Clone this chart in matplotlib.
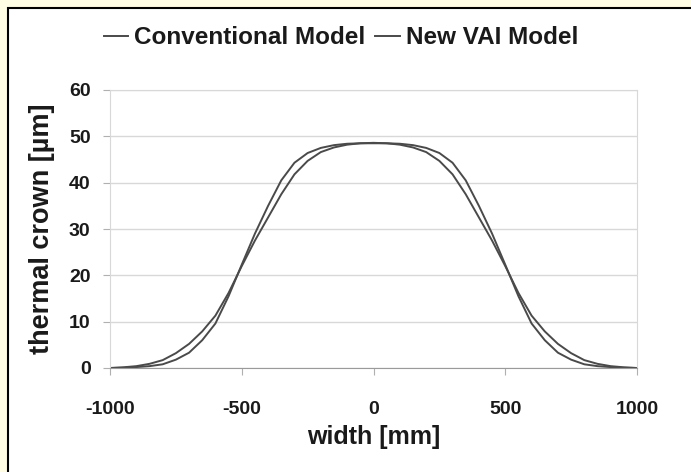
import matplotlib.pyplot as plt
from matplotlib.patches import Rectangle

plt.rcParams['font.family'] = ['Liberation Sans', 'DejaVu Sans']
plt.rcParams['axes.unicode_minus'] = False

# width positions [mm] and thermal crown [um]
width = [-1000, -950, -900, -850, -800, -750, -700, -650, -600, -550, -500,
         -450, -400, -350, -300, -250, -200, -150, -100, -50, 0,
         50, 100, 150, 200, 250, 300, 350, 400, 450, 500,
         550, 600, 650, 700, 750, 800, 850, 900, 950, 1000]

conventional = [0.0, 0.15, 0.4, 0.9, 1.7, 3.2, 5.2, 7.9, 11.3, 16.2, 22.0,
                27.5, 32.5, 37.5, 41.8, 44.7, 46.6, 47.6, 48.2, 48.5, 48.6,
                48.5, 48.2, 47.6, 46.6, 44.7, 41.8, 37.5, 32.5, 27.5, 22.0,
                16.2, 11.3, 7.9, 5.2, 3.2, 1.7, 0.9, 0.4, 0.15, 0.0]

new_vai = [0.0, 0.05, 0.2, 0.4, 0.8, 1.8, 3.3, 6.0, 9.6, 15.5, 22.3,
           29.0, 35.0, 40.5, 44.3, 46.4, 47.5, 48.1, 48.4, 48.5, 48.5,
           48.5, 48.4, 48.1, 47.5, 46.4, 44.3, 40.5, 35.0, 29.0, 22.3,
           15.5, 9.6, 6.0, 3.3, 1.8, 0.8, 0.4, 0.2, 0.05, 0.0]

x_ticks = [-1000, -500, 0, 500, 1000]
y_ticks = [0, 10, 20, 30, 40, 50, 60]

fig = plt.figure(figsize=(6.91, 4.72), dpi=100)
fig.patch.set_facecolor('#fffde3')

# white panel with black frame (runs off the right and bottom edges)
fig.patches.append(Rectangle((8 / 691, -0.05), 1.0, 1 - 8 / 472 + 0.05,
                             transform=fig.transFigure, facecolor='white',
                             edgecolor='black', linewidth=1.5, zorder=-10))

ax = fig.add_axes([110 / 691, 1 - 368 / 472, 527 / 691, 278 / 472])
ax.set_facecolor('white')

ax.plot(width, conventional, color='#4a4a4a', linewidth=1.4, label='Conventional Model')
ax.plot(width, new_vai, color='#4a4a4a', linewidth=1.4, label='New VAI Model')

ax.set_xlim(-1000, 1000)
ax.set_ylim(0, 60)
ax.set_xticks(x_ticks)
ax.set_yticks(y_ticks)
ax.yaxis.grid(True, color='#d8d8d8', linewidth=1.0)
ax.set_axisbelow(True)

for side in ['left', 'right', 'top']:
    ax.spines[side].set_color('#d8d8d8')
ax.spines['bottom'].set_color('#9a9a9a')
ax.tick_params(axis='both', length=5, color='#b0b0b0', labelsize=14)
ax.tick_params(axis='x', pad=19)
ax.tick_params(axis='y', pad=9)
for lab in ax.get_xticklabels() + ax.get_yticklabels():
    lab.set_fontweight('bold')
    lab.set_color('#1a1a1a')

ax.set_xlabel('width [mm]', fontsize=18, fontweight='bold', color='#1a1a1a', labelpad=5)
ax.set_ylabel('thermal crown [µm]', fontsize=19.5, fontweight='bold', color='#1a1a1a', labelpad=10)

fig.legend(loc='center', bbox_to_anchor=(341 / 691, 1 - 38 / 472), ncol=2,
           frameon=False, handlelength=1.0, handletextpad=0.25, columnspacing=0.4,
           prop={'size': 17.5, 'weight': 'bold'}, labelcolor='#1a1a1a')

fig.savefig('out.png', dpi=100, facecolor=fig.get_facecolor())
